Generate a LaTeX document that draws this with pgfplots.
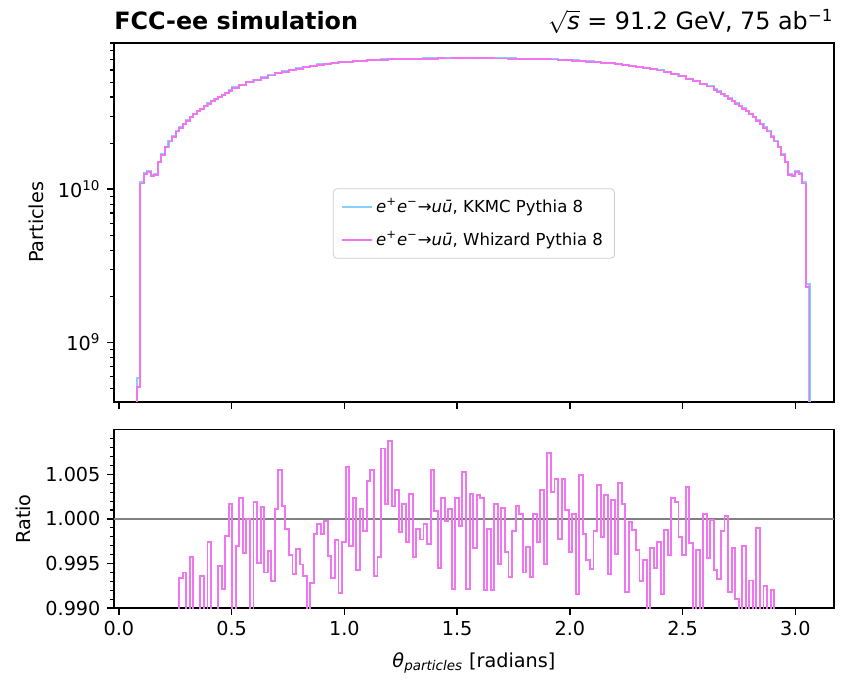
\documentclass[border=0pt]{standalone}
\usepackage{fontspec}
\setmainfont{DejaVu Sans}
\usepackage{pgfplots}
\pgfplotsset{compat=1.18}
\usepackage{pgfplotstable}
\definecolor{kkmc}{RGB}{135,206,250}
\definecolor{whiz}{RGB}{240,117,240}
\definecolor{legedge}{RGB}{204,204,204}

\pgfplotstableread{
x whiz kkmc
0.0628 1e8 1e8
0.0785 5.1e8 5.9e8
0.0942 1.09e10 1.11e10
0.1100 1.25e10 1.28e10
0.1257 1.30e10 1.31e10
0.1414 1.22e10 1.23e10
0.1571 1.24e10 1.25e10
0.1728 1.50e10 1.51e10
0.1885 1.68e10 1.69e10
0.2042 1.88e10 1.89e10
0.2199 2.05e10 2.06e10
0.2356 2.20e10 2.21e10
0.2513 2.38e10 2.39e10
0.2670 2.52e10 2.53e10
0.2827 2.65e10 2.66e10
0.2985 2.80e10 2.81e10
0.3142 2.95e10 2.96e10
0.3299 3.10e10 3.11e10
0.3456 3.22e10 3.23e10
0.3613 3.35e10 3.36e10
0.3770 3.50e10 3.51e10
0.3927 3.62e10 3.63e10
0.4084 3.75e10 3.76e10
0.4241 3.88e10 3.89e10
0.4398 4.00e10 4.01e10
0.4555 4.12e10 4.13e10
0.4712 4.25e10 4.26e10
0.4869 4.40e10 4.41e10
0.5027 4.60e10 4.61e10
0.5341 4.80e10 4.81e10
0.5655 5.00e10 5.01e10
0.5969 5.18e10 5.19e10
0.6283 5.35e10 5.36e10
0.6597 5.52e10 5.53e10
0.6912 5.70e10 5.71e10
0.7226 5.85e10 5.86e10
0.7540 6.00e10 6.01e10
0.7854 6.13e10 6.14e10
0.8168 6.27e10 6.28e10
0.8482 6.40e10 6.41e10
0.8796 6.50e10 6.51e10
0.9111 6.58e10 6.59e10
0.9425 6.66e10 6.67e10
0.9739 6.73e10 6.74e10
1.0053 6.79e10 6.80e10
1.0367 6.85e10 6.86e10
1.0681 6.90e10 6.91e10
1.0996 6.94e10 6.95e10
1.1310 6.98e10 6.99e10
1.1624 7.01e10 7.02e10
1.1938 7.05e10 7.06e10
1.2252 7.06e10 7.07e10
1.2566 7.08e10 7.09e10
1.2881 7.10e10 7.11e10
1.3195 7.10e10 7.11e10
1.3509 7.12e10 7.13e10
1.3823 7.12e10 7.13e10
1.4137 7.14e10 7.15e10
1.4451 7.13e10 7.14e10
1.4765 7.15e10 7.16e10
1.5080 7.14e10 7.15e10
1.5394 7.15e10 7.16e10
1.5708 7.15e10 7.16e10
1.6022 7.14e10 7.15e10
1.6336 7.15e10 7.16e10
1.6650 7.13e10 7.14e10
1.6965 7.13e10 7.14e10
1.7279 7.12e10 7.13e10
1.7593 7.11e10 7.12e10
1.7907 7.10e10 7.11e10
1.8221 7.08e10 7.09e10
1.8535 7.06e10 7.07e10
1.8850 7.04e10 7.05e10
1.9164 7.02e10 7.03e10
1.9478 6.98e10 6.99e10
1.9792 6.95e10 6.96e10
2.0106 6.91e10 6.92e10
2.0420 6.86e10 6.87e10
2.0735 6.81e10 6.82e10
2.1049 6.75e10 6.76e10
2.1363 6.69e10 6.70e10
2.1677 6.62e10 6.63e10
2.1991 6.55e10 6.56e10
2.2305 6.46e10 6.47e10
2.2619 6.38e10 6.39e10
2.2934 6.30e10 6.31e10
2.3248 6.20e10 6.21e10
2.3562 6.08e10 6.09e10
2.3876 5.95e10 5.96e10
2.4190 5.80e10 5.81e10
2.4504 5.63e10 5.64e10
2.4819 5.45e10 5.46e10
2.5133 5.26e10 5.27e10
2.5447 5.08e10 5.09e10
2.5761 4.88e10 4.89e10
2.6075 4.68e10 4.69e10
2.6389 4.47e10 4.48e10
2.6546 4.33e10 4.34e10
2.6704 4.19e10 4.20e10
2.6861 4.05e10 4.06e10
2.7018 3.90e10 3.91e10
2.7175 3.76e10 3.77e10
2.7332 3.62e10 3.63e10
2.7489 3.50e10 3.51e10
2.7646 3.36e10 3.37e10
2.7803 3.22e10 3.23e10
2.7960 3.10e10 3.11e10
2.8117 2.95e10 2.96e10
2.8274 2.80e10 2.81e10
2.8431 2.66e10 2.67e10
2.8588 2.52e10 2.53e10
2.8746 2.38e10 2.39e10
2.8903 2.20e10 2.21e10
2.9060 2.05e10 2.06e10
2.9217 1.88e10 1.89e10
2.9374 1.68e10 1.69e10
2.9531 1.50e10 1.51e10
2.9688 1.24e10 1.25e10
2.9845 1.22e10 1.24e10
3.0002 1.30e10 1.32e10
3.0159 1.25e10 1.27e10
3.0316 1.09e10 1.11e10
3.0473 2.3e9 2.4e9
3.0631 1e8 1e8
3.0788 1e8 1e8
}\histtab

\pgfplotstableread{
x r
0.2513 0.985
0.2670 0.9934
0.2827 0.9940
0.2985 0.985
0.3142 0.9957
0.3299 0.985
0.3456 0.985
0.3613 0.9936
0.3770 0.985
0.3927 0.9974
0.4084 0.985
0.4241 0.985
0.4398 0.9947
0.4555 0.9921
0.4712 0.9981
0.4869 1.0017
0.5027 0.985
0.5184 0.9970
0.5341 1.0023
0.5498 0.9962
0.5655 1.0000
0.5812 0.985
0.5969 1.0019
0.6126 0.9951
0.6283 1.0013
0.6440 0.9940
0.6597 0.9964
0.6754 0.9930
0.6912 1.0011
0.7069 1.0055
0.7226 1.0015
0.7383 0.9989
0.7540 0.9960
0.7697 0.9938
0.7854 0.9966
0.8011 0.9949
0.8168 0.9936
0.8325 0.985
0.8482 0.9928
0.8639 0.9983
0.8796 0.9994
0.8954 0.9983
0.9111 0.9998
0.9268 0.9959
0.9425 0.9934
0.9582 0.9976
0.9739 0.9917
0.9896 0.9974
1.0053 1.0058
1.0210 0.9970
1.0367 1.0024
1.0524 0.9943
1.0681 1.0011
1.0838 0.9987
1.0996 1.0043
1.1153 1.0055
1.1310 0.9936
1.1467 0.9957
1.1624 1.0079
1.1781 1.0017
1.1938 1.0087
1.2095 1.0015
1.2252 1.0032
1.2409 0.9985
1.2566 1.0017
1.2723 0.9974
1.2881 1.0028
1.3038 0.9957
1.3195 0.9989
1.3352 0.9977
1.3509 0.9994
1.3666 0.9972
1.3823 1.0055
1.3980 1.0009
1.4137 0.9945
1.4294 1.0023
1.4451 0.9998
1.4608 1.0011
1.4765 0.9921
1.4923 1.0024
1.5080 0.9992
1.5237 1.0053
1.5394 0.9921
1.5551 1.0028
1.5708 0.9967
1.5865 1.0027
1.6022 1.0024
1.6179 0.9920
1.6336 0.9989
1.6493 0.9920
1.6650 1.0017
1.6808 0.9950
1.6965 1.0012
1.7122 0.9963
1.7279 0.9935
1.7436 0.9987
1.7593 1.0015
1.7750 1.0006
1.7907 0.9940
1.8064 0.9969
1.8221 0.9935
1.8378 1.0006
1.8535 0.9974
1.8692 1.0032
1.8850 0.9950
1.9007 1.0074
1.9164 1.0030
1.9321 1.0045
1.9478 0.9978
1.9635 1.0045
1.9792 1.0010
1.9949 0.9963
2.0106 1.0006
2.0263 0.9916
2.0420 1.0049
2.0577 0.9983
2.0735 0.9954
2.0892 0.9944
2.1049 0.9987
2.1206 1.0038
2.1363 0.9980
2.1520 1.0027
2.1677 0.9938
2.1834 1.0021
2.1991 0.9961
2.2148 1.0040
2.2305 1.0017
2.2462 0.9918
2.2619 0.9997
2.2777 0.9988
2.2934 0.9965
2.3091 0.9930
2.3248 0.9954
2.3405 0.985
2.3562 0.9967
2.3719 0.9945
2.3876 0.9974
2.4033 0.9916
2.4190 0.9988
2.4347 0.9960
2.4504 1.0023
2.4662 1.0019
2.4819 0.9980
2.4976 0.9960
2.5133 1.0036
2.5290 0.9973
2.5447 0.985
2.5604 0.9965
2.5761 0.985
2.5918 1.0006
2.6075 0.9956
2.6232 0.9999
2.6389 0.9943
2.6546 0.9933
2.6704 0.9986
2.6861 1.0003
2.7018 0.9918
2.7175 0.9967
2.7332 0.9910
2.7489 0.985
2.7646 0.9970
2.7803 0.985
2.7960 0.9931
2.8117 0.985
2.8274 0.9990
2.8431 0.985
2.8588 0.9925
2.8746 0.985
2.8903 0.9920
2.9060 0.985
2.9217 0.985
}\ratiotab

\begin{document}
\begin{tikzpicture}
\path[use as bounding box] (0,0) rectangle (440pt,353.6pt);
\pgfplotsset{every axis/.append style={
  scale only axis, width=374.4pt,
  axis line style={line width=0.8pt},
  tick style={line width=0.8pt, black},
  minor tick style={line width=0.6pt, black},
  major tick length=3.5pt, minor tick length=2pt,
  tick align=outside, xtick pos=bottom, ytick pos=left,
  /pgf/number format/assume math mode=true,
  tick label style={font=\fontsize{10}{12}\selectfont},
  label style={font=\fontsize{10}{12}\selectfont},
  xmin=-0.022, xmax=3.171,
  xtick={0,0.5,1,1.5,2,2.5,3},
}}
\begin{axis}[
  name=top,
  at={(59.28pt,144.56pt)}, anchor=south west, height=186.68pt,
  ymode=log, ymin=4.1e8, ymax=9.0e10,
  xticklabels={,,},
  ytick={1e9,1e10}, yticklabels={10\textsuperscript{9},10\textsuperscript{10}},
  minor ytick={5e8,6e8,7e8,8e8,9e8,2e9,3e9,4e9,5e9,6e9,7e9,8e9,9e9,2e10,3e10,4e10,5e10,6e10,7e10,8e10,9e10},
  ylabel={Particles},
  ylabel style={at={(axis description cs:-0.108,0.5)}, anchor=center},
  legend cell align=left,
  legend style={at={(0.5,0.497)}, anchor=center, draw=legedge,
    rounded corners=2pt, font=\fontsize{8.6}{10}\selectfont, row sep=4pt,
    inner xsep=4pt, inner ysep=3pt},
  legend image code/.code={\draw[#1, line width=0.8pt] (0pt,0pt) -- (15.5pt,0pt);},
]
\addplot[kkmc, line width=1.1pt, const plot mark left] table[x=x,y=kkmc]{\histtab};
\addlegendentry{\textit{e}\textsuperscript{+}\textit{e}\textsuperscript{−}→\textit{uū}, KKMC Pythia 8}
\addplot[whiz, line width=1.0pt, const plot mark left] table[x=x,y=whiz]{\histtab};
\addlegendentry{\textit{e}\textsuperscript{+}\textit{e}\textsuperscript{−}→\textit{uū}, Whizard Pythia 8}
\end{axis}
\node[anchor=base west, inner sep=0pt, font=\bfseries\fontsize{12.4}{14}\selectfont, yshift=7pt] at (top.north west) {FCC-ee simulation};
\node[anchor=base east, inner sep=0pt, font=\fontsize{12.4}{14}\selectfont, yshift=7pt] at (top.north east) {$\sqrt{\textit{s}}$ = 91.2 GeV, 75 ab\textsuperscript{−1}};
\begin{axis}[
  at={(59.28pt,37.28pt)}, anchor=south west, height=92.82pt,
  ymin=0.99, ymax=1.01,
  xticklabel style={/pgf/number format/fixed, /pgf/number format/fixed zerofill, /pgf/number format/precision=1},
  ytick={0.99,0.995,1,1.005},
  yticklabel style={/pgf/number format/fixed, /pgf/number format/fixed zerofill, /pgf/number format/precision=3},
  minor ytick={0.991,0.992,0.993,0.994,0.996,0.997,0.998,0.999,1.001,1.002,1.003,1.004,1.006,1.007,1.008,1.009},
  ylabel={Ratio},
  ylabel style={at={(axis description cs:-0.126,0.5)}, anchor=center},
  xlabel={\textit{θ}\textsubscript{\textit{particles}} [radians]},
  xlabel style={at={(axis description cs:0.5,-0.33)}, anchor=base},
]
\addplot[gray, line width=0.6pt, forget plot] coordinates {(-0.1,1) (3.3,1)};
\addplot[whiz, line width=1.0pt, const plot mark left] table[x=x,y=r]{\ratiotab};
\end{axis}
\end{tikzpicture}
\end{document}
